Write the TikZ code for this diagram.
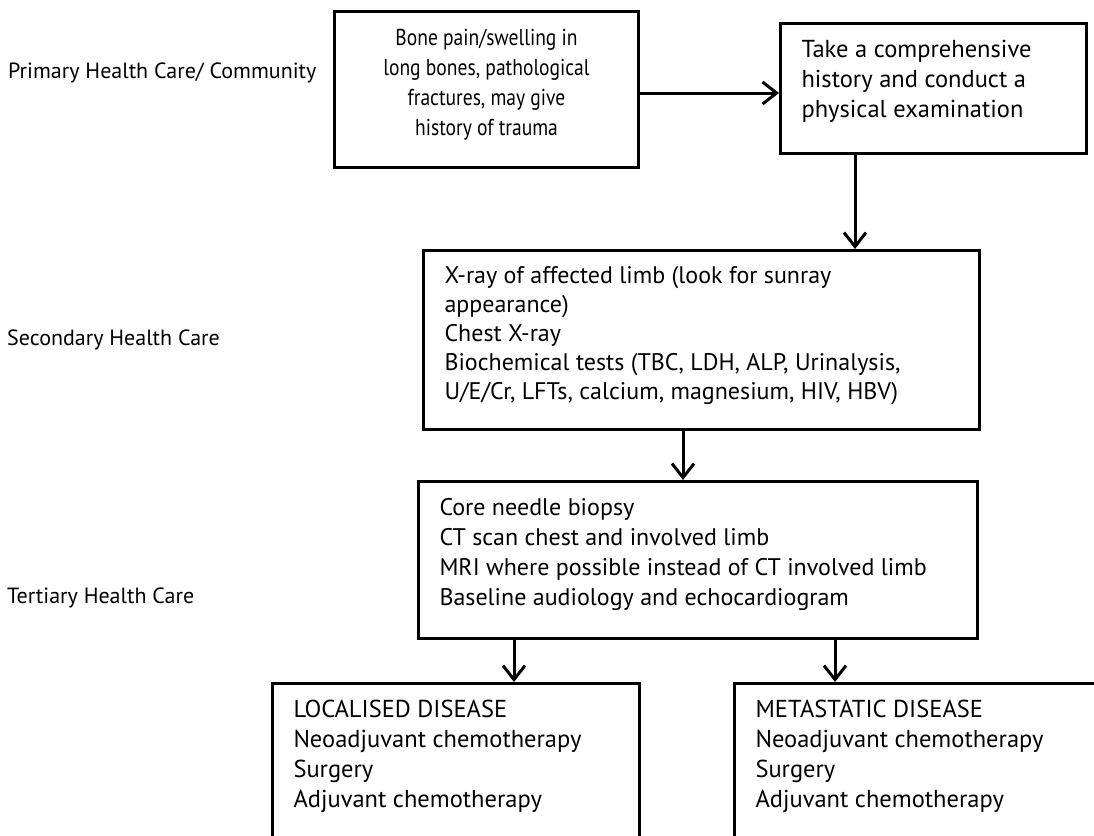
\documentclass[tikz,border=0pt]{standalone}
\usepackage{fontspec}
\setmainfont{PT Sans}
\usetikzlibrary{arrows.meta,calc}

\begin{document}
\begin{tikzpicture}[x=1pt,y=-1pt,
  every node/.style={font=\fontsize{24.5}{30}\selectfont},
  stage/.style={draw, line width=3pt, anchor=north west, inner xsep=21pt, inner ysep=13pt},
  flow/.style={line width=3pt, -{Straight Barb[length=14pt,width=22pt,line width=3pt]}},
  level/.style={anchor=base west, inner sep=0pt, font=\fontsize{22}{30}\selectfont}]

\useasboundingbox (0,0) rectangle (1094,835);
\fill[white] (0,0) rectangle (1094,835);
\clip (0,0) rectangle (1094,835);

\node[stage, font=\fontsize{23}{30}\selectfont\addfontfeature{FakeStretch=0.85}] (pain) at (333,10)
  {\parbox[c][130pt][t]{262pt}{\centering\strut Bone pain/swelling in\\ long bones, pathological\\ fractures, may give\\ history of trauma}};
\node[stage] (history) at (779,22)
  {\parbox[c][104pt][t]{264pt}{\raggedright\strut Take a comprehensive\\ history and conduct a\\ physical examination}};
\node[stage, font=\fontsize{24}{29}\selectfont] (imaging) at (422,249)
  {\parbox[c][153pt][t]{514pt}{\raggedright\strut X-ray of affected limb (look for sunray\\ appearance)\\ Chest X-ray\\ Biochemical tests (TBC, LDH, ALP, Urinalysis,\\ U/E/Cr, LFTs, calcium, magnesium, HIV, HBV)}};
\node[stage, font=\fontsize{24}{30}\selectfont] (biopsy) at (417,480)
  {\parbox[c][131pt][t]{517pt}{\raggedright\strut Core needle biopsy\\ CT scan chest and involved limb\\ MRI where possible instead of CT involved limb\\ Baseline audiology and echocardiogram}};
\node[stage] (local) at (271,682)
  {\parbox[c][200pt][t]{325pt}{\raggedright\strut LOCALISED DISEASE\\ Neoadjuvant chemotherapy\\ Surgery\\ Adjuvant chemotherapy}};
\node[stage] (meta) at (733,682)
  {\parbox[c][200pt][t]{358pt}{\raggedright\strut METASTATIC DISEASE\\ Neoadjuvant chemotherapy\\ Surgery\\ Adjuvant chemotherapy}};

\node[level] (primary) at (8,78) {Primary Health Care/ Community};
\node[level] (secondary) at (7,345) {Secondary Health Care};
\node[level] (tertiary) at (7,603) {Tertiary Health Care};

\coordinate (a0) at (0,93);
\coordinate (a1) at (855,0);
\coordinate (a2) at (683,0);
\coordinate (a3) at (514,0);
\coordinate (a4) at (835,0);

\draw[flow] (pain.east |- a0) -- (history.west |- a0);
\draw[flow] (history.south -| a1) -- (imaging.north -| a1);
\draw[flow] (imaging.south -| a2) -- (biopsy.north -| a2);
\draw[flow] (biopsy.south -| a3) -- (local.north -| a3);
\draw[flow] (biopsy.south -| a4) -- (meta.north -| a4);

\end{tikzpicture}
\end{document}
